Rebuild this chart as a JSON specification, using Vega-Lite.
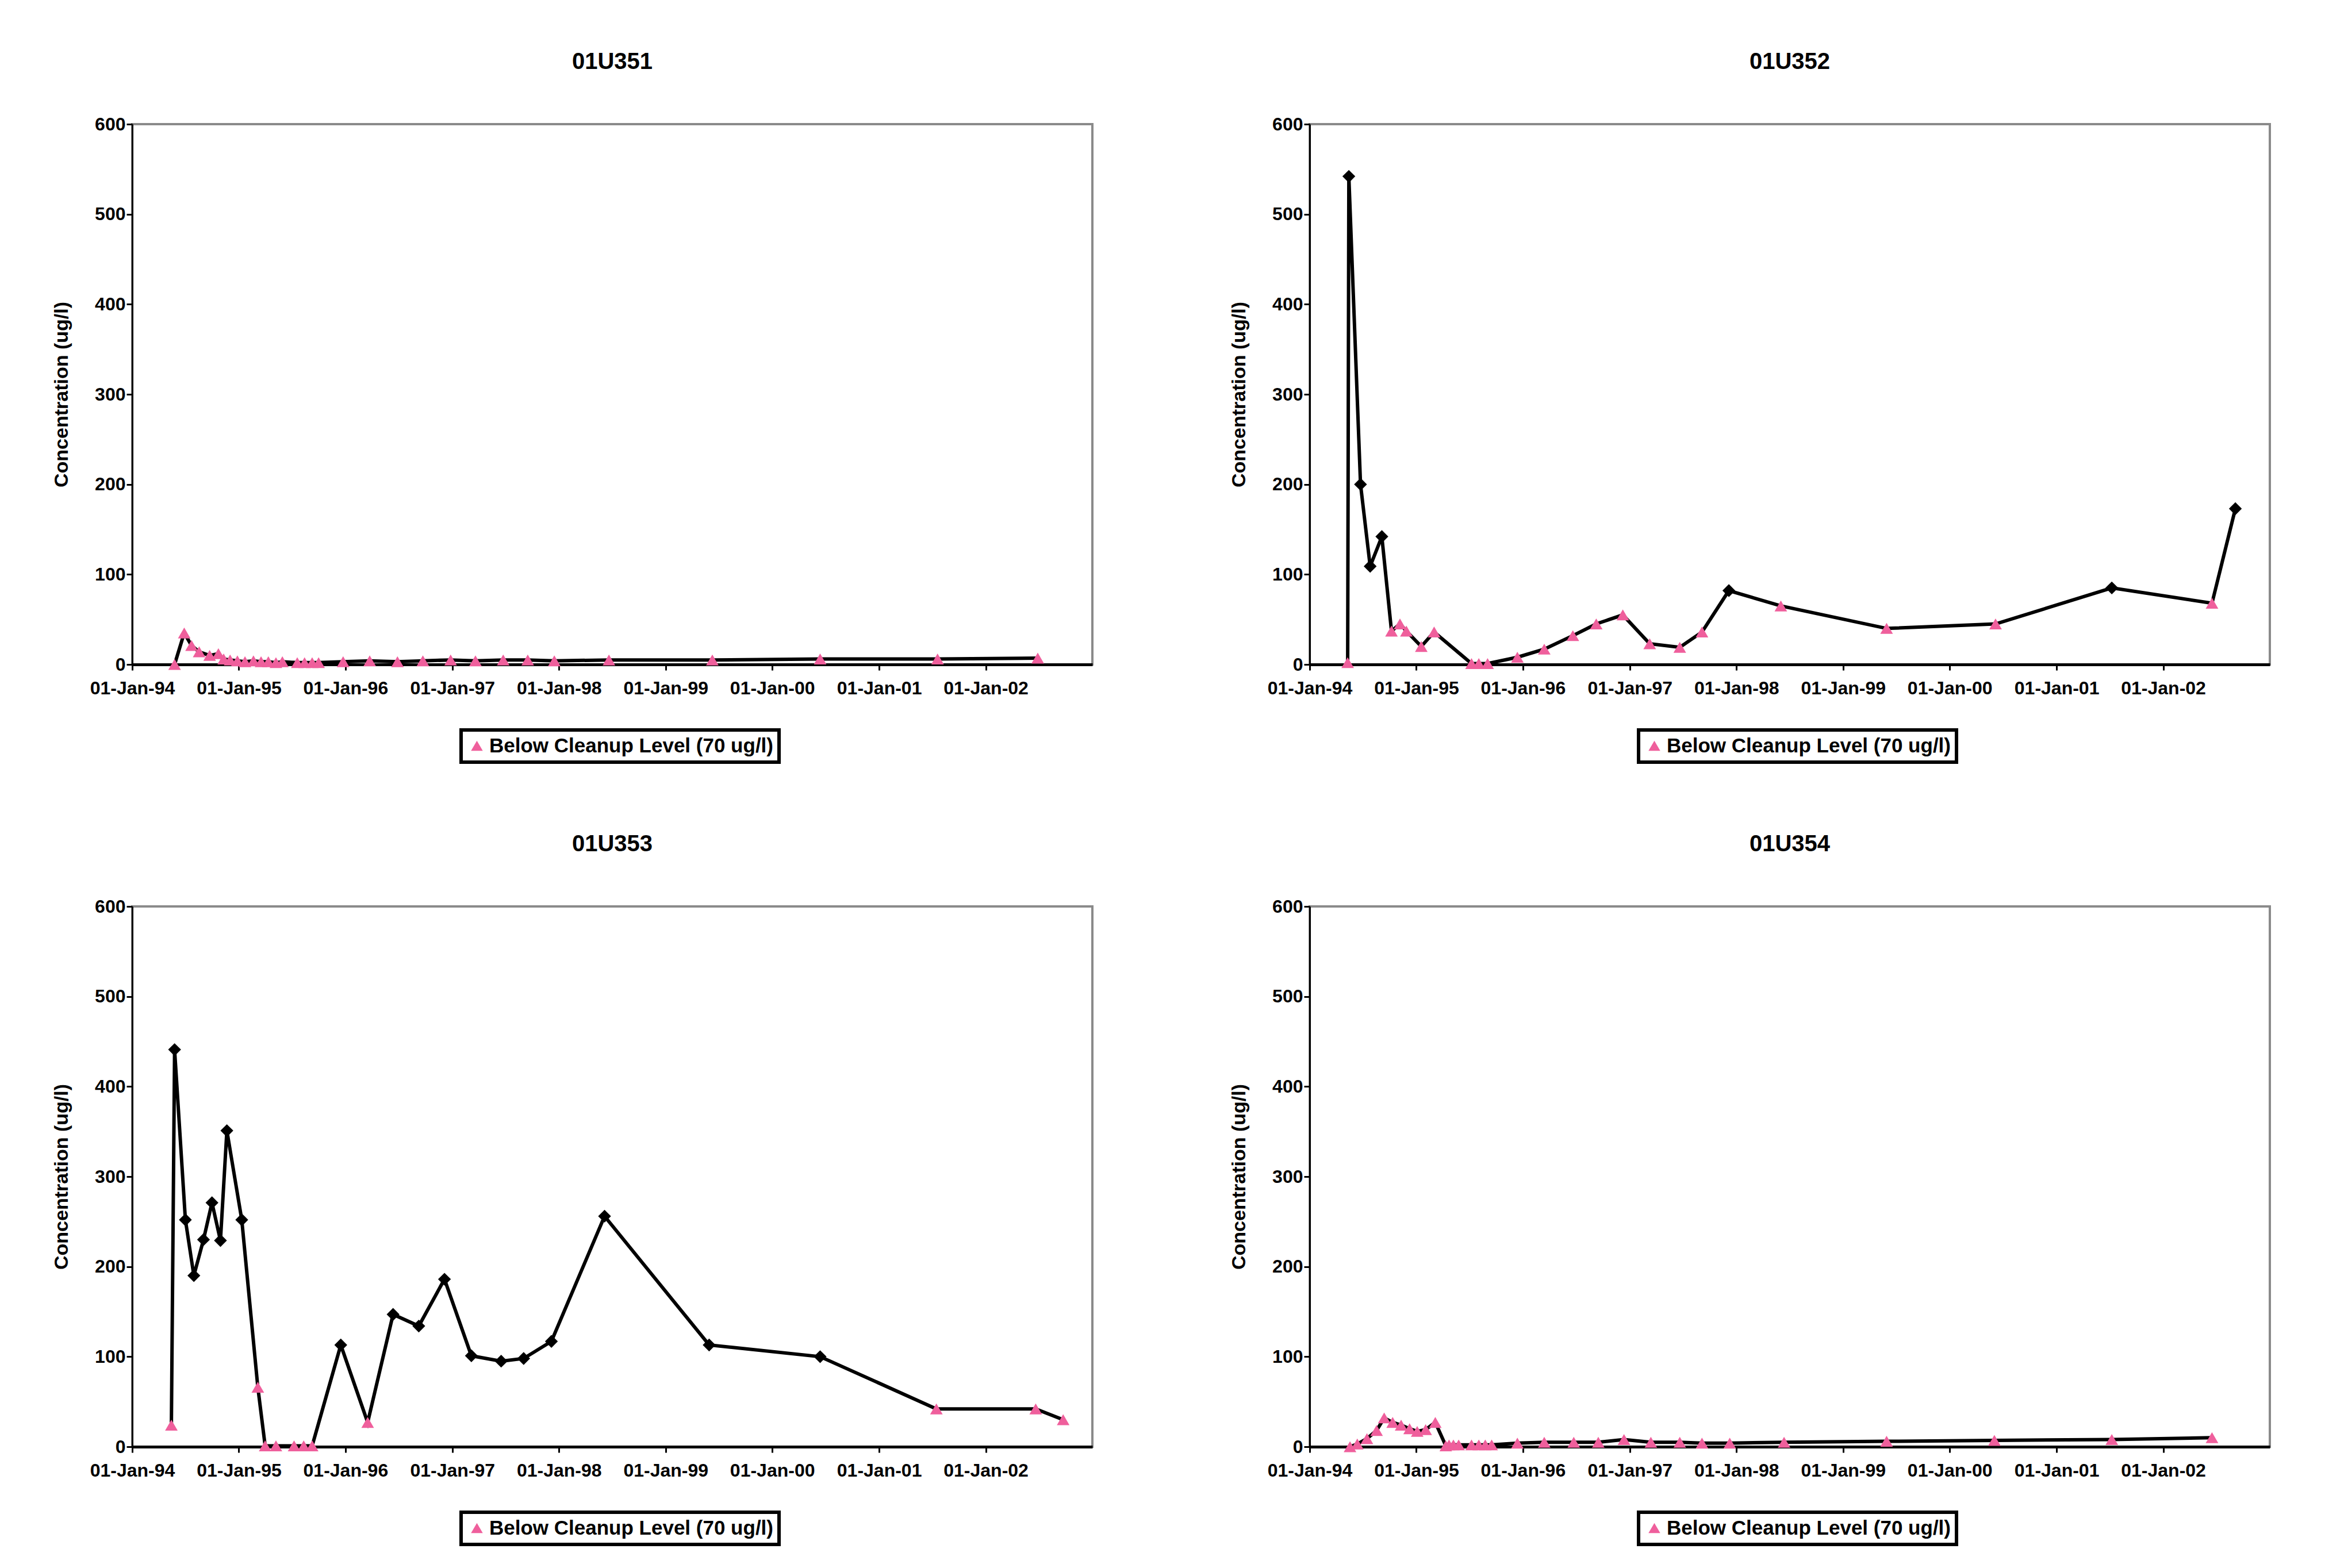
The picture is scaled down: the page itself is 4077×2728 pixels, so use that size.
{
  "$schema": "https://vega.github.io/schema/vega-lite/v6.json",
  "background": "white",
  "padding": {"left": 88, "top": 86, "right": 20, "bottom": 10},
  "datasets": {
    "d": [
      {"w":"01U351","d":"1994-05-26","c":0},
      {"w":"01U351","d":"1994-06-28","c":35},
      {"w":"01U351","d":"1994-07-23","c":21},
      {"w":"01U351","d":"1994-08-18","c":14},
      {"w":"01U351","d":"1994-09-23","c":10},
      {"w":"01U351","d":"1994-10-23","c":12},
      {"w":"01U351","d":"1994-11-10","c":6},
      {"w":"01U351","d":"1994-12-02","c":5},
      {"w":"01U351","d":"1994-12-27","c":4},
      {"w":"01U351","d":"1995-01-22","c":3},
      {"w":"01U351","d":"1995-02-20","c":4},
      {"w":"01U351","d":"1995-03-18","c":3},
      {"w":"01U351","d":"1995-04-12","c":3},
      {"w":"01U351","d":"1995-05-08","c":2},
      {"w":"01U351","d":"1995-05-30","c":3},
      {"w":"01U351","d":"1995-07-20","c":2},
      {"w":"01U351","d":"1995-08-14","c":2},
      {"w":"01U351","d":"1995-09-09","c":2},
      {"w":"01U351","d":"1995-10-01","c":2},
      {"w":"01U351","d":"1995-12-24","c":3},
      {"w":"01U351","d":"1996-03-24","c":4},
      {"w":"01U351","d":"1996-06-27","c":3},
      {"w":"01U351","d":"1996-09-22","c":4},
      {"w":"01U351","d":"1996-12-26","c":5},
      {"w":"01U351","d":"1997-03-21","c":4},
      {"w":"01U351","d":"1997-06-24","c":5},
      {"w":"01U351","d":"1997-09-16","c":5},
      {"w":"01U351","d":"1997-12-16","c":4},
      {"w":"01U351","d":"1998-06-21","c":5},
      {"w":"01U351","d":"1999-06-10","c":5},
      {"w":"01U351","d":"2000-06-13","c":6},
      {"w":"01U351","d":"2001-07-20","c":6},
      {"w":"01U351","d":"2002-06-28","c":7},

      {"w":"01U352","d":"1994-05-11","c":2},
      {"w":"01U352","d":"1994-05-15","c":542},
      {"w":"01U352","d":"1994-06-24","c":200},
      {"w":"01U352","d":"1994-07-27","c":109},
      {"w":"01U352","d":"1994-09-05","c":142},
      {"w":"01U352","d":"1994-10-08","c":37},
      {"w":"01U352","d":"1994-11-06","c":45},
      {"w":"01U352","d":"1994-11-28","c":37},
      {"w":"01U352","d":"1995-01-18","c":20},
      {"w":"01U352","d":"1995-03-03","c":36},
      {"w":"01U352","d":"1995-07-09","c":1},
      {"w":"01U352","d":"1995-08-03","c":1},
      {"w":"01U352","d":"1995-09-02","c":1},
      {"w":"01U352","d":"1995-12-13","c":8},
      {"w":"01U352","d":"1996-03-14","c":17},
      {"w":"01U352","d":"1996-06-20","c":32},
      {"w":"01U352","d":"1996-09-08","c":45},
      {"w":"01U352","d":"1996-12-08","c":55},
      {"w":"01U352","d":"1997-03-10","c":23},
      {"w":"01U352","d":"1997-06-21","c":19},
      {"w":"01U352","d":"1997-09-05","c":36},
      {"w":"01U352","d":"1997-12-06","c":82},
      {"w":"01U352","d":"1998-06-02","c":65},
      {"w":"01U352","d":"1999-05-30","c":40},
      {"w":"01U352","d":"2000-06-06","c":45},
      {"w":"01U352","d":"2001-07-09","c":85},
      {"w":"01U352","d":"2002-06-17","c":68},
      {"w":"01U352","d":"2002-09-05","c":173},

      {"w":"01U353","d":"1994-05-15","c":24},
      {"w":"01U353","d":"1994-05-26","c":441},
      {"w":"01U353","d":"1994-07-02","c":252},
      {"w":"01U353","d":"1994-07-31","c":190},
      {"w":"01U353","d":"1994-09-02","c":230},
      {"w":"01U353","d":"1994-10-01","c":271},
      {"w":"01U353","d":"1994-10-30","c":229},
      {"w":"01U353","d":"1994-11-21","c":351},
      {"w":"01U353","d":"1995-01-11","c":252},
      {"w":"01U353","d":"1995-03-07","c":66},
      {"w":"01U353","d":"1995-04-01","c":1},
      {"w":"01U353","d":"1995-05-08","c":1},
      {"w":"01U353","d":"1995-07-09","c":1},
      {"w":"01U353","d":"1995-08-11","c":1},
      {"w":"01U353","d":"1995-09-09","c":1},
      {"w":"01U353","d":"1995-12-16","c":113},
      {"w":"01U353","d":"1996-03-17","c":27},
      {"w":"01U353","d":"1996-06-12","c":147},
      {"w":"01U353","d":"1996-09-08","c":134},
      {"w":"01U353","d":"1996-12-05","c":186},
      {"w":"01U353","d":"1997-03-07","c":101},
      {"w":"01U353","d":"1997-06-17","c":95},
      {"w":"01U353","d":"1997-09-02","c":98},
      {"w":"01U353","d":"1997-12-06","c":117},
      {"w":"01U353","d":"1998-06-06","c":256},
      {"w":"01U353","d":"1999-05-30","c":113},
      {"w":"01U353","d":"2000-06-13","c":100},
      {"w":"01U353","d":"2001-07-16","c":42},
      {"w":"01U353","d":"2002-06-21","c":42},
      {"w":"01U353","d":"2002-09-23","c":30},

      {"w":"01U354","d":"1994-05-19","c":0},
      {"w":"01U354","d":"1994-06-13","c":3},
      {"w":"01U354","d":"1994-07-16","c":9},
      {"w":"01U354","d":"1994-08-18","c":18},
      {"w":"01U354","d":"1994-09-13","c":32},
      {"w":"01U354","d":"1994-10-12","c":27},
      {"w":"01U354","d":"1994-11-10","c":24},
      {"w":"01U354","d":"1994-12-09","c":20},
      {"w":"01U354","d":"1995-01-04","c":17},
      {"w":"01U354","d":"1995-02-02","c":19},
      {"w":"01U354","d":"1995-03-07","c":27},
      {"w":"01U354","d":"1995-04-12","c":1},
      {"w":"01U354","d":"1995-04-23","c":2},
      {"w":"01U354","d":"1995-05-08","c":2},
      {"w":"01U354","d":"1995-05-26","c":2},
      {"w":"01U354","d":"1995-07-09","c":2},
      {"w":"01U354","d":"1995-08-03","c":2},
      {"w":"01U354","d":"1995-08-25","c":2},
      {"w":"01U354","d":"1995-09-16","c":2},
      {"w":"01U354","d":"1995-12-13","c":4},
      {"w":"01U354","d":"1996-03-14","c":5},
      {"w":"01U354","d":"1996-06-23","c":5},
      {"w":"01U354","d":"1996-09-15","c":5},
      {"w":"01U354","d":"1996-12-12","c":8},
      {"w":"01U354","d":"1997-03-14","c":5},
      {"w":"01U354","d":"1997-06-21","c":5},
      {"w":"01U354","d":"1997-09-05","c":4},
      {"w":"01U354","d":"1997-12-09","c":4},
      {"w":"01U354","d":"1998-06-13","c":5},
      {"w":"01U354","d":"1999-05-30","c":6},
      {"w":"01U354","d":"2000-06-02","c":7},
      {"w":"01U354","d":"2001-07-09","c":8},
      {"w":"01U354","d":"2002-06-17","c":10}
    ]
  },
  "data": {"name": "d"},
  "columns": 2,
  "spacing": {"row": 116, "column": 234},
  "concat": [
    {
      "title": "01U351",
      "width": 1670, "height": 940,
      "transform": [{"filter": "datum.w === '01U351'"}],
      "encoding": {
        "x": {"field": "d", "type": "temporal", "scale": {"type": "utc", "domain": [{"year": 1994, "month": 1, "date": 1, "utc": true}, {"year": 2003, "month": 1, "date": 1, "utc": true}]}, "axis": {"title": null, "labelOverlap": false, "labelFlush": false, "labelExpr": "utcFormat(datum.value, '%d-%b-%y')", "values": [{"year":1994,"month":1,"date":1,"utc":true},{"year":1995,"month":1,"date":1,"utc":true},{"year":1996,"month":1,"date":1,"utc":true},{"year":1997,"month":1,"date":1,"utc":true},{"year":1998,"month":1,"date":1,"utc":true},{"year":1999,"month":1,"date":1,"utc":true},{"year":2000,"month":1,"date":1,"utc":true},{"year":2001,"month":1,"date":1,"utc":true},{"year":2002,"month":1,"date":1,"utc":true}], "domainWidth": 5, "labelPadding": 16}},
        "y": {"field": "c", "type": "quantitative", "scale": {"domain": [0, 600]}, "axis": {"title": "Concentration (ug/l)", "values": [0,100,200,300,400,500,600], "domainWidth": 3}}
      },
      "layer": [
        {"mark": {"type": "line", "color": "black", "strokeWidth": 6}},
        {"transform": [{"filter": "datum.c >= 70"}], "mark": {"type": "point", "shape": "diamond", "filled": true, "color": "black", "size": 500, "opacity": 1}},
        {"transform": [{"filter": "datum.c < 70"}], "mark": {"type": "point", "filled": true, "size": 480, "opacity": 1},
         "encoding": {
           "color": {"datum": "Below Cleanup Level (70 ug/l)", "scale": {"range": ["#ef5f9c"]}, "legend": {"title": null}},
           "shape": {"datum": "Below Cleanup Level (70 ug/l)", "scale": {"range": ["triangle-up"]}, "legend": {"title": null}}
         }}
      ]
    },
    {
      "title": "01U352",
      "width": 1670, "height": 940,
      "transform": [{"filter": "datum.w === '01U352'"}],
      "encoding": {
        "x": {"field": "d", "type": "temporal", "scale": {"type": "utc", "domain": [{"year": 1994, "month": 1, "date": 1, "utc": true}, {"year": 2003, "month": 1, "date": 1, "utc": true}]}, "axis": {"title": null, "labelOverlap": false, "labelFlush": false, "labelExpr": "utcFormat(datum.value, '%d-%b-%y')", "values": [{"year":1994,"month":1,"date":1,"utc":true},{"year":1995,"month":1,"date":1,"utc":true},{"year":1996,"month":1,"date":1,"utc":true},{"year":1997,"month":1,"date":1,"utc":true},{"year":1998,"month":1,"date":1,"utc":true},{"year":1999,"month":1,"date":1,"utc":true},{"year":2000,"month":1,"date":1,"utc":true},{"year":2001,"month":1,"date":1,"utc":true},{"year":2002,"month":1,"date":1,"utc":true}], "domainWidth": 5, "labelPadding": 16}},
        "y": {"field": "c", "type": "quantitative", "scale": {"domain": [0, 600]}, "axis": {"title": "Concentration (ug/l)", "values": [0,100,200,300,400,500,600], "domainWidth": 3}}
      },
      "layer": [
        {"mark": {"type": "line", "color": "black", "strokeWidth": 6}},
        {"transform": [{"filter": "datum.c >= 70"}], "mark": {"type": "point", "shape": "diamond", "filled": true, "color": "black", "size": 500, "opacity": 1}},
        {"transform": [{"filter": "datum.c < 70"}], "mark": {"type": "point", "filled": true, "size": 480, "opacity": 1},
         "encoding": {
           "color": {"datum": "Below Cleanup Level (70 ug/l)", "scale": {"range": ["#ef5f9c"]}, "legend": {"title": null}},
           "shape": {"datum": "Below Cleanup Level (70 ug/l)", "scale": {"range": ["triangle-up"]}, "legend": {"title": null}}
         }}
      ]
    },
    {
      "title": "01U353",
      "width": 1670, "height": 940,
      "transform": [{"filter": "datum.w === '01U353'"}],
      "encoding": {
        "x": {"field": "d", "type": "temporal", "scale": {"type": "utc", "domain": [{"year": 1994, "month": 1, "date": 1, "utc": true}, {"year": 2003, "month": 1, "date": 1, "utc": true}]}, "axis": {"title": null, "labelOverlap": false, "labelFlush": false, "labelExpr": "utcFormat(datum.value, '%d-%b-%y')", "values": [{"year":1994,"month":1,"date":1,"utc":true},{"year":1995,"month":1,"date":1,"utc":true},{"year":1996,"month":1,"date":1,"utc":true},{"year":1997,"month":1,"date":1,"utc":true},{"year":1998,"month":1,"date":1,"utc":true},{"year":1999,"month":1,"date":1,"utc":true},{"year":2000,"month":1,"date":1,"utc":true},{"year":2001,"month":1,"date":1,"utc":true},{"year":2002,"month":1,"date":1,"utc":true}], "domainWidth": 5, "labelPadding": 16}},
        "y": {"field": "c", "type": "quantitative", "scale": {"domain": [0, 600]}, "axis": {"title": "Concentration (ug/l)", "values": [0,100,200,300,400,500,600], "domainWidth": 3}}
      },
      "layer": [
        {"mark": {"type": "line", "color": "black", "strokeWidth": 6}},
        {"transform": [{"filter": "datum.c >= 70"}], "mark": {"type": "point", "shape": "diamond", "filled": true, "color": "black", "size": 500, "opacity": 1}},
        {"transform": [{"filter": "datum.c < 70"}], "mark": {"type": "point", "filled": true, "size": 480, "opacity": 1},
         "encoding": {
           "color": {"datum": "Below Cleanup Level (70 ug/l)", "scale": {"range": ["#ef5f9c"]}, "legend": {"title": null}},
           "shape": {"datum": "Below Cleanup Level (70 ug/l)", "scale": {"range": ["triangle-up"]}, "legend": {"title": null}}
         }}
      ]
    },
    {
      "title": "01U354",
      "width": 1670, "height": 940,
      "transform": [{"filter": "datum.w === '01U354'"}],
      "encoding": {
        "x": {"field": "d", "type": "temporal", "scale": {"type": "utc", "domain": [{"year": 1994, "month": 1, "date": 1, "utc": true}, {"year": 2003, "month": 1, "date": 1, "utc": true}]}, "axis": {"title": null, "labelOverlap": false, "labelFlush": false, "labelExpr": "utcFormat(datum.value, '%d-%b-%y')", "values": [{"year":1994,"month":1,"date":1,"utc":true},{"year":1995,"month":1,"date":1,"utc":true},{"year":1996,"month":1,"date":1,"utc":true},{"year":1997,"month":1,"date":1,"utc":true},{"year":1998,"month":1,"date":1,"utc":true},{"year":1999,"month":1,"date":1,"utc":true},{"year":2000,"month":1,"date":1,"utc":true},{"year":2001,"month":1,"date":1,"utc":true},{"year":2002,"month":1,"date":1,"utc":true}], "domainWidth": 5, "labelPadding": 16}},
        "y": {"field": "c", "type": "quantitative", "scale": {"domain": [0, 600]}, "axis": {"title": "Concentration (ug/l)", "values": [0,100,200,300,400,500,600], "domainWidth": 3}}
      },
      "layer": [
        {"mark": {"type": "line", "color": "black", "strokeWidth": 6}},
        {"transform": [{"filter": "datum.c >= 70"}], "mark": {"type": "point", "shape": "diamond", "filled": true, "color": "black", "size": 500, "opacity": 1}},
        {"transform": [{"filter": "datum.c < 70"}], "mark": {"type": "point", "filled": true, "size": 480, "opacity": 1},
         "encoding": {
           "color": {"datum": "Below Cleanup Level (70 ug/l)", "scale": {"range": ["#ef5f9c"]}, "legend": {"title": null}},
           "shape": {"datum": "Below Cleanup Level (70 ug/l)", "scale": {"range": ["triangle-up"]}, "legend": {"title": null}}
         }}
      ]
    }
  ],
  "resolve": {
    "scale": {"color": "independent", "shape": "independent"},
    "legend": {"color": "independent", "shape": "independent"}
  },
  "config": {
    "font": "Liberation Sans",
    "view": {"stroke": "#8a8a8a", "strokeWidth": 4},
    "title": {"fontSize": 40, "fontWeight": "bold", "color": "black", "offset": 72},
    "axis": {
      "grid": false,
      "labelFontSize": 32, "labelFontWeight": "bold", "labelColor": "black",
      "titleFontSize": 34, "titleFontWeight": "bold", "titleColor": "black",
      "domainColor": "black", "tickColor": "black", "tickSize": 10, "tickWidth": 3,
      "titlePadding": 40
    },
    "legend": {
      "orient": "none",
      "legendX": 572,
      "legendY": 1054,
      "direction": "horizontal",
      "padding": 10,
      "strokeColor": "black",
      "strokeWidth": 6,
      "labelFontSize": 35,
      "labelFontWeight": "bold",
      "labelColor": "black",
      "labelLimit": 0,
      "symbolSize": 420,
      "symbolStrokeWidth": 0
    }
  }
}
